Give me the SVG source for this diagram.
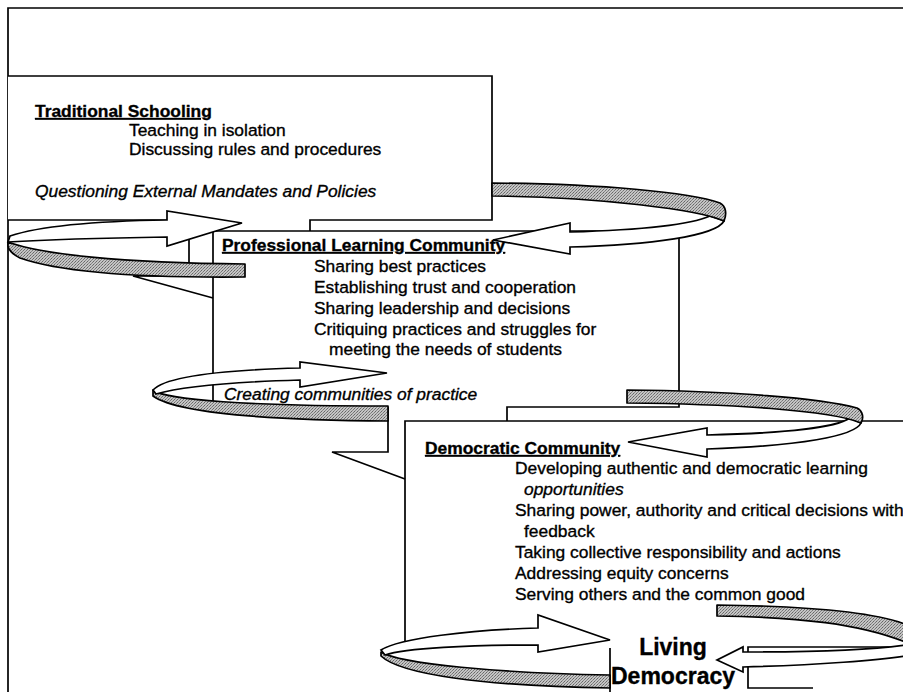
<svg xmlns="http://www.w3.org/2000/svg" width="903" height="692" viewBox="0 0 903 692">
<style>
  .ln{fill:none;stroke:#000;stroke-width:1.7}
  .box{fill:#fff;stroke:none}
  .band{fill:url(#dither);stroke:#000;stroke-width:1.7;stroke-linejoin:round}
  .arw{fill:#fff;stroke:#000;stroke-width:1.7;stroke-linejoin:miter}
  text{font-family:"Liberation Sans",Arial,sans-serif;font-size:17.4px;fill:#000;stroke:#000;stroke-width:0.35}
  .h{font-weight:bold;text-decoration:underline}
  .i{font-style:italic}
  .big{font-weight:bold;font-size:23px;text-anchor:middle}
</style>
<defs>
  <pattern id="dither" width="3" height="3" patternUnits="userSpaceOnUse">
    <rect width="3" height="3" fill="#c4c4c4"/>
    <rect x="0" y="0" width="1" height="1" fill="#666"/>
    <rect x="2" y="1" width="1" height="1" fill="#777"/>
    <rect x="1" y="2" width="1" height="1" fill="#888"/>
  </pattern>
</defs>
<rect width="903" height="692" fill="#fff"/>

<g id="frame"><path class="ln" d="M8,692 V8 H903"/></g>

<g id="box-traditional">
  <rect class="box" x="8" y="76" width="484" height="144"/>
  <path class="ln" d="M8,76 H492 V220 H310 V231"/>
  <path class="ln" d="M8,220 H167"/>
</g>

<g id="box-professional">
  <rect class="box" x="213" y="231" width="466" height="176"/>
  <path class="ln" d="M213,407 V231 H679 V407 H507 V421"/>
  <path class="ln" d="M189,220 V276 H133 L213,298"/>
</g>

<g id="box-democratic">
  <rect class="box" x="405" y="421" width="498" height="227"/>
  <path class="ln" d="M405,648 V421 H903"/>
  <path class="ln" d="M388,407 V452 H332 L405,479"/>
  <path class="ln" d="M903,647 H748 V688 H813"/>
</g>

<g id="box-living">
  <path class="ln" d="M610,648 V692"/>
</g>

<g id="connectors">
  <path class="band" d="M8,242 C40,254 120,263 245,264 L245,277 C140,278 60,272 20,258 C12,254 8,249 8,246 Z"/>
  <path class="arw" d="M10,236 C40,226 100,221 167,220 L167,211 L242,223 L167,246 L167,237 C100,238 40,240 8,242 Z"/>
  <path class="arw" d="M724,221 C716,236 650,245 570,247 L570,254 L493,240 L570,223 L570,232 C640,230 690,225 710,216 Z"/>
  <path class="band" d="M492,183 C600,184 690,192 720,203 C726,206 727,214 724,221 C700,210 600,197 492,196 Z"/>
  <path class="band" d="M153,390 C165,400 250,406 388,406 L388,421 C260,420 175,412 153,396 Z"/>
  <path class="arw" d="M153,390 C165,377 220,370 300,368 L300,362 L387,373 L300,387 L300,380 C230,382 180,387 156,394 Z"/>
  <path class="arw" d="M861,423 C855,436 800,446 707,449 L707,457 L628,442 L707,428 L707,435 C790,433 835,428 850,418 Z"/>
  <path class="band" d="M627,390 C730,391 820,398 857,408 C863,411 864,418 861,423 C830,410 730,404 627,403 Z"/>
  <path class="band" d="M381,652 C400,664 500,673 610,675 L610,688 C480,686 400,674 381,656 Z"/>
  <path class="arw" d="M381,650 C400,638 470,630 538,628 L538,615 L610,640 L538,652 L538,645 C470,645 405,648 385,655 Z"/>
  <path class="band" d="M717,605 C800,606 870,611 905,624 L905,642 C860,624 800,617 717,616 Z"/>
  <path class="arw" d="M905,645 C870,650 800,652 743,652 L743,647 L717,660 L743,672 L743,667 C820,665 880,660 905,656 Z"/>
</g>

<g id="text-traditional">
  <text class="h" x="35" y="117">Traditional Schooling</text>
  <text x="129" y="136">Teaching in isolation</text>
  <text x="129" y="155">Discussing rules and procedures</text>
  <text class="i" x="35" y="197">Questioning External Mandates and Policies</text>
</g>
<g id="text-professional">
  <text class="h" x="222" y="251">Professional Learning Community</text>
  <text x="314" y="272">Sharing best practices</text>
  <text x="314" y="293">Establishing trust and cooperation</text>
  <text x="314" y="314">Sharing leadership and decisions</text>
  <text x="314" y="335">Critiquing practices and struggles for</text>
  <text x="329" y="355">meeting the needs of students</text>
  <text class="i" x="224" y="400">Creating communities of practice</text>
</g>
<g id="text-democratic">
  <text class="h" x="425" y="454">Democratic Community</text>
  <text x="515" y="474">Developing authentic and democratic learning</text>
  <text class="i" x="524" y="495">opportunities</text>
  <text x="515" y="516">Sharing power, authority and critical decisions with</text>
  <text x="524" y="537">feedback</text>
  <text x="515" y="558">Taking collective responsibility and actions</text>
  <text x="515" y="579">Addressing equity concerns</text>
  <text x="515" y="600">Serving others and the common good</text>
</g>
<g id="text-living">
  <text class="big" x="673" y="655">Living</text>
  <text class="big" x="673" y="684">Democracy</text>
</g>
</svg>
